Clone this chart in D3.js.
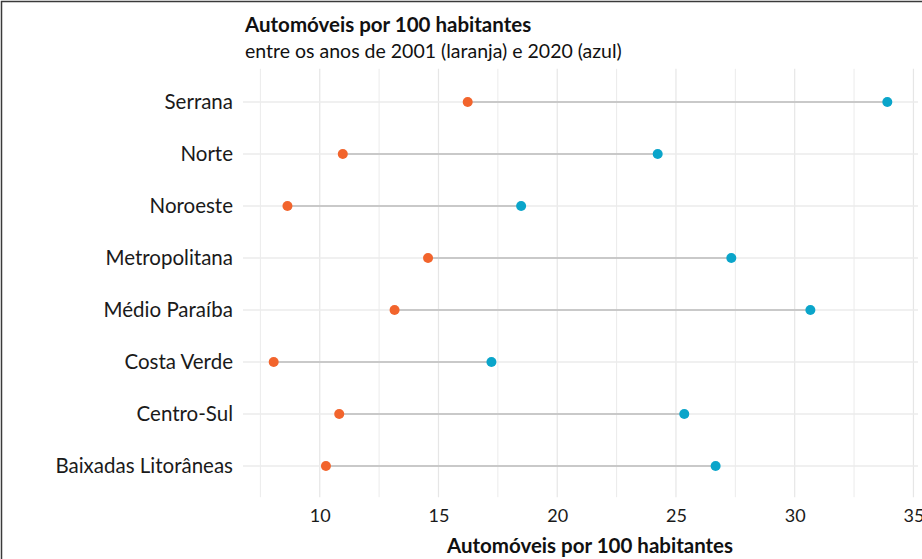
<!DOCTYPE html>
<html>
<head>
<meta charset="utf-8">
<script src="https://cdn.jsdelivr.net/npm/d3@7"></script>
<style>
  html, body { margin: 0; padding: 0; background: #fff; }
  svg { display: block; font-family: Lato, "Open Sans", sans-serif; }
</style>
</head>
<body>
<svg id="chart" width="922" height="559"></svg>
<script>
const categories = ["Serrana", "Norte", "Noroeste", "Metropolitana", "Médio Paraíba", "Costa Verde", "Centro-Sul", "Baixadas Litorâneas"];
const values2001 = [16.23, 10.97, 8.64, 14.56, 13.15, 8.06, 10.82, 10.26];
const values2020 = [33.90, 24.23, 18.48, 27.33, 30.66, 17.23, 25.35, 26.67];
const xTicks = [10, 15, 20, 25, 30, 35];
const xMinorTicks = [7.5, 12.5, 17.5, 22.5, 27.5, 32.5];
const titleText = "Automóveis por 100 habitantes";
const subtitleText = "entre os anos de 2001 (laranja) e 2020 (azul)";
const xAxisTitle = "Automóveis por 100 habitantes";

const W = 922, H = 559;
const panel = { left: 243, right: 918, top: 70.8, bottom: 497.2 };
const orange = "#f2642c", blue = "#0aa5ca";

const svg = d3.select("#chart");
svg.append("rect").attr("width", W).attr("height", H).attr("fill", "#fff");

const dmin = d3.min(values2001), dmax = d3.max(values2020);
const pad = (dmax - dmin) * 0.05;
const x = d3.scaleLinear().domain([dmin - pad, dmax + pad]).range([panel.left, panel.right]);
const y = d3.scalePoint().domain(categories).range([panel.top, panel.bottom]).padding(0.6);

const grid = svg.append("g");
grid.selectAll("line.vmin").data(xMinorTicks).join("line")
  .attr("x1", d => x(d)).attr("x2", d => x(d))
  .attr("y1", panel.top - 2).attr("y2", panel.bottom)
  .attr("stroke", "#ebebeb").attr("stroke-width", 1);
grid.selectAll("line.vmaj").data(xTicks).join("line")
  .attr("x1", d => x(d)).attr("x2", d => x(d))
  .attr("y1", panel.top - 2).attr("y2", panel.bottom)
  .attr("stroke", "#e6e6e6").attr("stroke-width", 1.2);
grid.selectAll("line.h").data(categories).join("line")
  .attr("x1", panel.left).attr("x2", panel.right)
  .attr("y1", d => y(d)).attr("y2", d => y(d))
  .attr("stroke", "#ebebeb").attr("stroke-width", 1.6);

const rows = categories.map((c, i) => ({ c, a: values2001[i], b: values2020[i] }));

svg.append("g").selectAll("line").data(rows).join("line")
  .attr("x1", d => x(d.a)).attr("x2", d => x(d.b))
  .attr("y1", d => y(d.c)).attr("y2", d => y(d.c))
  .attr("stroke", "#bcbcbc").attr("stroke-width", 1.4);

svg.append("g").selectAll("circle").data(rows).join("circle")
  .attr("cx", d => x(d.a)).attr("cy", d => y(d.c)).attr("r", 5).attr("fill", orange);
svg.append("g").selectAll("circle").data(rows).join("circle")
  .attr("cx", d => x(d.b)).attr("cy", d => y(d.c)).attr("r", 5).attr("fill", blue);

// y axis labels
const yAxis = d3.axisLeft(y).tickSize(0).tickPadding(10);
const yg = svg.append("g").attr("transform", `translate(${panel.left},0)`).call(yAxis);
yg.select(".domain").remove();
yg.selectAll("text").attr("font-size", 20.5).attr("fill", "#1a1a1a").attr("font-family", "Lato, sans-serif");

// x axis labels
const xAxis = d3.axisBottom(x).tickValues(xTicks).tickSize(0).tickPadding(12);
const xg = svg.append("g").attr("transform", `translate(0,${panel.bottom})`).call(xAxis);
xg.select(".domain").remove();
xg.selectAll("text").attr("font-size", 18).attr("fill", "#1a1a1a").attr("font-family", "Lato, sans-serif");

// titles
svg.append("text").attr("x", 245).attr("y", 32).text(titleText)
  .attr("font-size", 20.5).attr("font-weight", "bold").attr("fill", "#111");
svg.append("text").attr("x", 245).attr("y", 58).text(subtitleText)
  .attr("font-size", 19.5).attr("fill", "#111");
svg.append("text").attr("x", 590).attr("y", 553).attr("text-anchor", "middle").text(xAxisTitle)
  .attr("font-size", 20.5).attr("font-weight", "bold").attr("fill", "#111");

// outer frame (cropped at right and bottom)
svg.append("rect").attr("x", 1.5).attr("y", 1.5).attr("width", W + 20).attr("height", H + 20)
  .attr("fill", "none").attr("stroke", "#3a3a3a").attr("stroke-width", 1.5);
</script>
</body>
</html>
